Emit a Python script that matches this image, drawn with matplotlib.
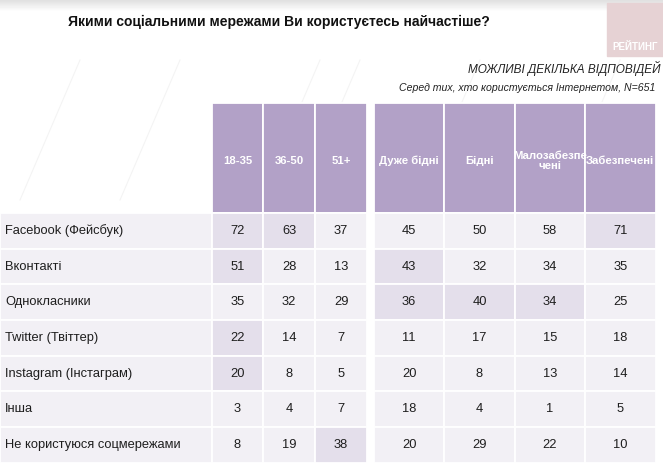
import numpy as np
import matplotlib
matplotlib.use("Agg")
import matplotlib.pyplot as plt
from matplotlib.patches import Rectangle

plt.rcParams['font.family'] = ['Liberation Sans', 'DejaVu Sans']

# дані
title = "Якими соціальними мережами Ви користуєтесь найчастіше?"
note1 = "МОЖЛИВІ ДЕКІЛЬКА ВІДПОВІДЕЙ"
note2 = "Серед тих, хто користується Інтернетом, N=651"
networks = ["Facebook (Фейсбук)", "Вконтакті", "Однокласники", "Twitter (Твіттер)",
            "Instagram (Інстаграм)", "Інша", "Не користуюся соцмережами"]
age_groups = ["18-35", "36-50", "51+"]
income_groups = ["Дуже бідні", "Бідні", "Малозабезпе\nчені", "Забезпечені"]
age_values = [[72, 63, 37], [51, 28, 13], [35, 32, 29], [22, 14, 7],
              [20, 8, 5], [3, 4, 7], [8, 19, 38]]
income_values = [[45, 50, 58, 71], [43, 32, 34, 35], [36, 40, 34, 25], [11, 17, 15, 18],
                 [20, 8, 13, 14], [18, 4, 1, 5], [20, 29, 22, 10]]
age_hl = [[1, 1, 0], [1, 0, 0], [0, 0, 0], [1, 0, 0], [1, 0, 0], [0, 0, 0], [0, 0, 1]]
income_hl = [[0, 0, 0, 1], [1, 0, 0, 0], [1, 1, 1, 0], [0, 0, 0, 0],
             [0, 0, 0, 0], [0, 0, 0, 0], [0, 0, 0, 0]]

W, H = 663, 469
c_head = "#b2a1c7"
c_body = "#f2f0f5"
c_hl = "#e4dfeb"
c_text = "#1e1e1e"

fig = plt.figure(figsize=(W / 100, H / 100), dpi=100)
ax = fig.add_axes([0, 0, 1, 1])
ax.set_xlim(0, W)
ax.set_ylim(H, 0)
ax.axis("off")

# сіра смуга зверху
grad = np.linspace(0.88, 1.0, 12).reshape(-1, 1)
ax.imshow(grad, extent=[0, W, 12, 0], cmap="gray", vmin=0, vmax=1, aspect="auto", zorder=0)

# декоративні лінії фону
for x0 in [120, 260, 420, 560, 20, 300]:
    ax.plot([x0, x0 + 60], [200, 60], color="#f4f4f4", lw=0.8, zorder=0)

# логотип
ax.add_patch(Rectangle((607, 3), 56, 53, color="#e6d2d4", zorder=1))
ax.text(635, 52, "РЕЙТИНГ", color="white", fontsize=7, fontweight="bold",
        ha="center", va="bottom", zorder=2)

ax.text(68, 22, title, fontsize=10, fontweight="bold", color="#111111", va="center")
ax.text(660, 68, note1, fontsize=8.5, style="italic", color="#222222", ha="right", va="center")
ax.text(655, 88, note2, fontsize=7.6, style="italic", color="#222222", ha="right", va="center")

# геометрія таблиці
label_w = 211.5
age_edges = np.linspace(211.5, 367, len(age_groups) + 1)
inc_edges = np.linspace(374, 655.5, len(income_groups) + 1)
head_top, head_bot = 103, 213
row_edges = np.linspace(head_bot, 462.7, len(networks) + 1)

def cell(x0, x1, y0, y1, fc):
    ax.add_patch(Rectangle((x0, y0), x1 - x0, y1 - y0, facecolor=fc,
                           edgecolor="white", lw=1.3, zorder=2))

for edges, groups in [(age_edges, age_groups), (inc_edges, income_groups)]:
    for j, g in enumerate(groups):
        cell(edges[j], edges[j + 1], head_top, head_bot, c_head)
        ax.text((edges[j] + edges[j + 1]) / 2, 161, g, color="white", fontsize=8.2,
                fontweight="bold", ha="center", va="center", linespacing=1.05, zorder=3)

for i, name in enumerate(networks):
    y0, y1 = row_edges[i], row_edges[i + 1]
    ym = (y0 + y1) / 2
    cell(0, label_w, y0, y1, c_body)
    ax.text(5, ym, name, fontsize=9.3, color=c_text, ha="left", va="center", zorder=3)
    for edges, vals, hl in [(age_edges, age_values, age_hl), (inc_edges, income_values, income_hl)]:
        for j in range(len(edges) - 1):
            cell(edges[j], edges[j + 1], y0, y1, c_hl if hl[i][j] else c_body)
            ax.text((edges[j] + edges[j + 1]) / 2, ym, str(vals[i][j]), fontsize=9.3,
                    color=c_text, ha="center", va="center", zorder=3)

fig.savefig("out.png", dpi=100)
